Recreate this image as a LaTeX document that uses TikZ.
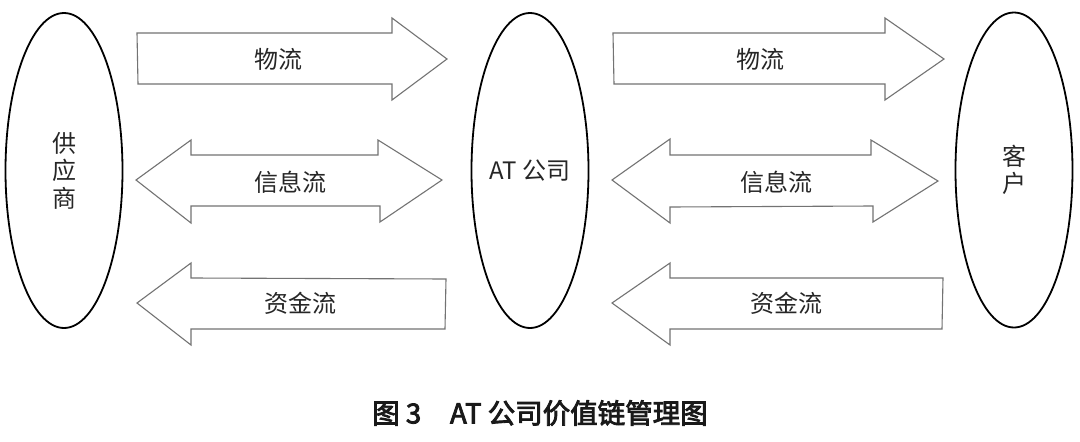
\documentclass[tikz,border=0pt]{standalone}
\usepackage{fontspec}
\setmainfont{Noto Sans CJK SC}
\newfontfamily\cjk{Noto Sans CJK SC}
\newfontfamily\capfont[FakeBold=3]{Noto Sans CJK SC}
\usetikzlibrary{shapes.geometric}
\tikzset{
  party/.style={draw=black, line width=1.8pt, ellipse, inner sep=0pt,
    minimum width=117pt, minimum height=315pt, align=center,
    font=\cjk\fontsize{24}{27.5}\selectfont, text=black!85},
  flow/.style={draw=black!55, line width=1.1pt, fill=white, line join=miter},
  flowlabel/.style={font=\cjk\fontsize{24}{28}\selectfont, text=black!85, inner sep=0pt},
  caption/.style={font=\capfont\fontsize{27.5}{30}\selectfont, text=black!90, inner sep=0pt}
}
\begin{document}
\begin{tikzpicture}[x=1pt,y=-1pt]
\useasboundingbox[fill=white] (0,0) rectangle (1080,442);
% parties
\node[party] (sup) at (64,170.5) {供\\应\\商};
\node[party] (at) at (530,170.5) {AT 公司};
\node[party] (cus) at (1014,170) {客\\户};
% left flows
\draw[flow] (137,33) -- (392,33) -- (392,18) -- (447,59) -- (392,100) -- (392,84) -- (138,84) -- cycle;
\draw[flow] (136,180) -- (191,140) -- (191,155) -- (378,155) -- (378,140) -- (442,180) -- (380,222) -- (380,206) -- (191,206) -- (191,223) -- cycle;
\draw[flow] (137,303) -- (191,263) -- (191,278) -- (446,279) -- (445,329) -- (191,329) -- (191,345) -- cycle;
% right flows
\draw[flow] (613,33) -- (885,33) -- (885,18) -- (944,59) -- (885,100) -- (885,84) -- (614,84) -- cycle;
\draw[flow] (612,180) -- (670,139) -- (670,155) -- (871,155) -- (871,140) -- (938,181) -- (873,222) -- (873,206) -- (670,207) -- (670,223) -- cycle;
\draw[flow] (612,303) -- (670,263) -- (670,278) -- (943,278) -- (942,329) -- (670,329) -- (670,345) -- cycle;
% labels
\node[flowlabel] (l1) at (278,59) {物流};
\node[flowlabel] (l2) at (290,182) {信息流};
\node[flowlabel] (l3) at (300,303) {资金流};
\node[flowlabel] (r1) at (760,59) {物流};
\node[flowlabel] (r2) at (776,182) {信息流};
\node[flowlabel] (r3) at (786,303) {资金流};
% caption
\node[caption] (cap) at (540,413) {图 3\hspace{1.05em}AT 公司价值链管理图};
\end{tikzpicture}
\end{document}
